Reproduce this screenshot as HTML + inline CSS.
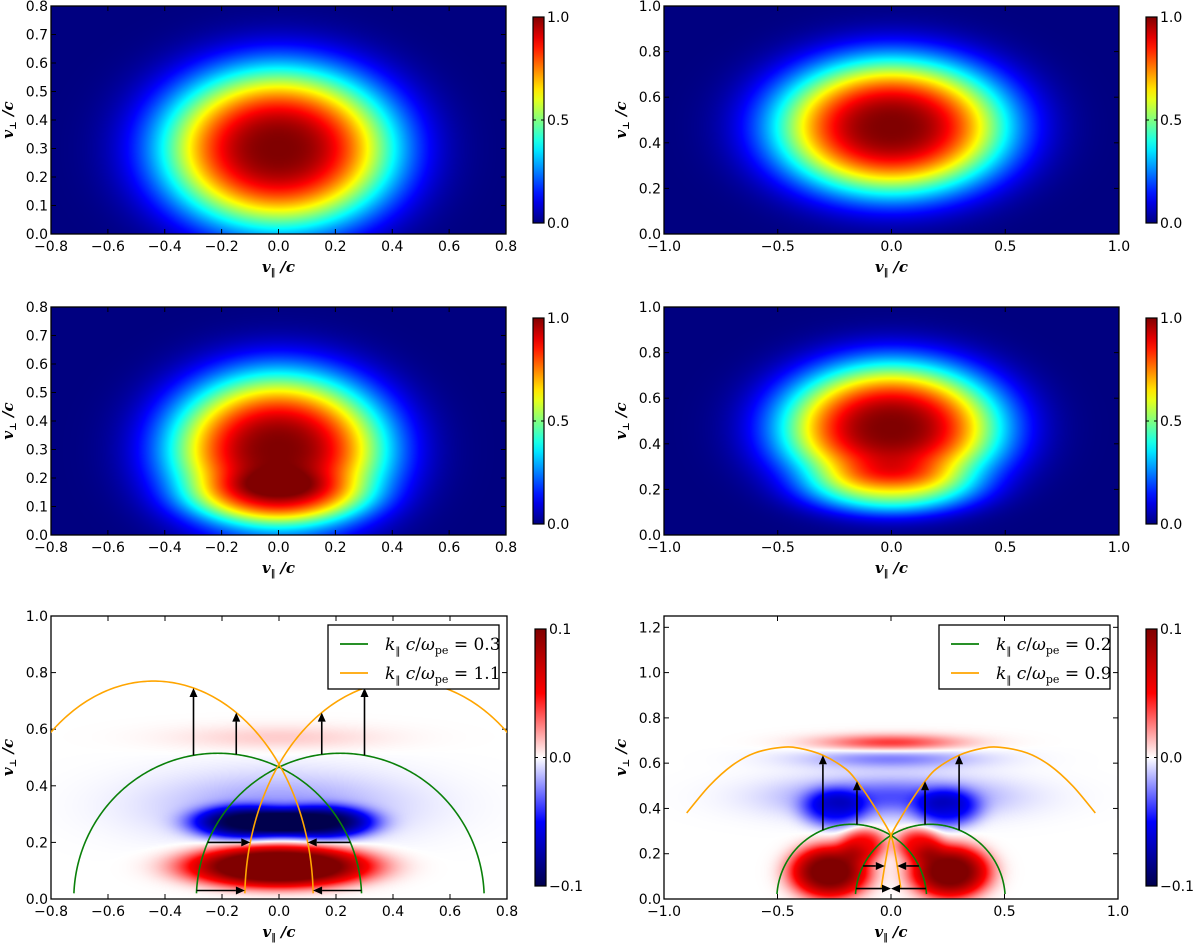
<!DOCTYPE html>
<html><head><meta charset="utf-8"><title>Velocity distribution panels</title>
<style>
html,body{margin:0;padding:0;background:#fff;}
#root{position:relative;width:1200px;height:943px;overflow:hidden;background:#fff;}
canvas{position:absolute;}
svg{position:absolute;left:0;top:0;}
</style></head>
<body>
<div id="root">
<canvas id="c-tl"></canvas>
<canvas id="c-tr"></canvas>
<canvas id="c-ml"></canvas>
<canvas id="c-mr"></canvas>
<canvas id="c-bl"></canvas>
<canvas id="c-br"></canvas>
<svg id="ov" width="1200" height="943" xmlns="http://www.w3.org/2000/svg"></svg>
</div>
<script>
// ---------- data ----------
const tlBlobX=[0], tlBlobY=[0.3], tlBlobSx=[0.29], tlBlobSy=[0.2], tlBlobAmp=[1.0], tlBlobP=[1.4];
const trBlobX=[0], trBlobY=[0.47], trBlobSx=[0.36], trBlobSy=[0.21], trBlobAmp=[1.0], trBlobP=[1.4];
const mlBlobX=[0,0], mlBlobY=[0.3,0.13], mlBlobSx=[0.27,0.22], mlBlobSy=[0.19,0.06], mlBlobAmp=[1.0,0.22], mlBlobP=[1.4,1.5];
const mrBlobX=[0,0], mrBlobY=[0.47,0.2], mrBlobSx=[0.34,0.27], mrBlobSy=[0.2,0.08], mrBlobAmp=[1.0,0.25], mrBlobP=[1.4,1.5];
const blBlobX=[0,-0.12,0.15,0,0], blBlobY=[0.115,0.27,0.27,0.33,0.57], blBlobSx=[0.22,0.13,0.13,0.3,0.25], blBlobSy=[0.05,0.04,0.04,0.08,0.03], blBlobAmp=[0.14,-0.09,-0.09,-0.02,0.01], blBlobP=[1.5,1.5,1.5,1,1];
const brBlobX=[-0.27,0.26,-0.12,0.12,0,-0.25,0.25,0,0], brBlobY=[0.12,0.12,0.24,0.24,0.45,0.4,0.4,0.69,0.62], brBlobSx=[0.12,0.12,0.07,0.07,0.32,0.1,0.1,0.22,0.27], brBlobSy=[0.08,0.08,0.05,0.05,0.06,0.06,0.06,0.025,0.03], brBlobAmp=[0.11,0.11,0.05,0.05,-0.035,-0.045,-0.045,0.04,-0.025], brBlobP=[1.5,1.5,1.5,1.5,1,1.5,1.5,1,1];
const xTicks08=[-0.8,-0.6,-0.4,-0.2,0,0.2,0.4,0.6,0.8];
const xTicks10=[-1,-0.5,0,0.5,1];
const yTicks08=[0,0.1,0.2,0.3,0.4,0.5,0.6,0.7,0.8];
const yTicks10=[0,0.2,0.4,0.6,0.8,1.0];
const yTicks125=[0,0.2,0.4,0.6,0.8,1.0,1.2];
const cbTicksJet=[0,0.5,1];
const cbTicksDiv=[-0.1,0,0.1];
const blGreenC=[-0.215,0.215], blGreenA=[0.505,0.505], blGreenB=[0.515,0.515];
const blOrangeC=[-0.44,0.44], blOrangeA=[0.56,0.56], blOrangeB=[0.77,0.77];
const blArrowUpX=[-0.3,-0.15,0.15,0.3];
const blArrowSideY=[0.2,0.03];
const brGreenC=[-0.173,0.173], brGreenA=[0.33,0.33], brGreenB=[0.33,0.33];
const brOrangeX=[-0.9,-0.8,-0.7,-0.6,-0.48,-0.4,-0.3,-0.2,-0.15,-0.1,-0.05,0,0.02,0.043];
const brOrangeY=[0.38,0.5,0.59,0.645,0.67,0.665,0.635,0.575,0.52,0.45,0.37,0.28,0.19,0.05];
const brArrowUpX=[-0.3,-0.15,0.15,0.3];
const brArrowSideY=[0.146,0.046];
const legendBL=['0.3','1.1'];
const legendBR=['0.2','0.9'];

// ---------- helpers ----------
const NS='http://www.w3.org/2000/svg';
const ov=document.getElementById('ov');
function el(tag,attrs,parent){const e=document.createElementNS(NS,tag);for(const k in attrs)e.setAttribute(k,attrs[k]);(parent||ov).appendChild(e);return e;}
function fmt(v,d){let s=v.toFixed(d);if(Math.abs(v)<1e-9)s=(0).toFixed(d);return s.replace('-','\u2212');}
function jet(v){v=Math.max(0,Math.min(1,v));const c=t=>Math.max(0,Math.min(1,t));return [c(1.5-Math.abs(4*v-3)),c(1.5-Math.abs(4*v-2)),c(1.5-Math.abs(4*v-1))];}
function seis(v){v=Math.max(-1,Math.min(1,v));
 if(v<0){const t=-v;if(t<0.5)return [1-2*t,1-2*t,1];return [0,0,1-(t-0.5)*1.4];}
 const t=v;if(t<0.5)return [1,1-2*t,1-2*t];return [1-(t-0.5),0,0];}

const panels=[
 {id:'tl',x0:51,x1:506,y0:6,y1:234,xr:[-0.8,0.8],yr:[0,0.8],xt:xTicks08,xd:1,yt:yTicks08,cbx:533,cby0:17,cby1:223,cmap:'jet',bx:tlBlobX,by:tlBlobY,bsx:tlBlobSx,bsy:tlBlobSy,ba:tlBlobAmp,bp:tlBlobP},
 {id:'tr',x0:664,x1:1119,y0:6,y1:234,xr:[-1,1],yr:[0,1],xt:xTicks10,xd:1,yt:yTicks10,cbx:1146,cby0:17,cby1:223,cmap:'jet',bx:trBlobX,by:trBlobY,bsx:trBlobSx,bsy:trBlobSy,ba:trBlobAmp,bp:trBlobP},
 {id:'ml',x0:51,x1:506,y0:307,y1:535,xr:[-0.8,0.8],yr:[0,0.8],xt:xTicks08,xd:1,yt:yTicks08,cbx:533,cby0:318,cby1:524,cmap:'jet',bx:mlBlobX,by:mlBlobY,bsx:mlBlobSx,bsy:mlBlobSy,ba:mlBlobAmp,bp:mlBlobP},
 {id:'mr',x0:664,x1:1119,y0:307,y1:535,xr:[-1,1],yr:[0,1],xt:xTicks10,xd:1,yt:yTicks10,cbx:1146,cby0:318,cby1:524,cmap:'jet',bx:mrBlobX,by:mrBlobY,bsx:mrBlobSx,bsy:mrBlobSy,ba:mrBlobAmp,bp:mrBlobP},
 {id:'bl',x0:51,x1:507,y0:616,y1:899,xr:[-0.8,0.8],yr:[0,1],xt:xTicks08,xd:1,yt:yTicks10,cbx:535,cby0:629,cby1:886,cmap:'div',bx:blBlobX,by:blBlobY,bsx:blBlobSx,bsy:blBlobSy,ba:blBlobAmp,bp:blBlobP},
 {id:'br',x0:664,x1:1118,y0:616,y1:899,xr:[-1,1],yr:[0,1.25],xt:xTicks10,xd:1,yt:yTicks125,cbx:1146,cby0:629,cby1:886,cmap:'div',bx:brBlobX,by:brBlobY,bsx:brBlobSx,bsy:brBlobSy,ba:brBlobAmp,bp:brBlobP}
];

function sx(p,x){return p.x0+(x-p.xr[0])/(p.xr[1]-p.xr[0])*(p.x1-p.x0);}
function sy(p,y){return p.y1-(y-p.yr[0])/(p.yr[1]-p.yr[0])*(p.y1-p.y0);}

function fieldVal(p,x,y){let s=0;for(let i=0;i<p.bx.length;i++){const dx=(x-p.bx[i])/p.bsx[i],dy=(y-p.by[i])/p.bsy[i];const q=0.5*(dx*dx+dy*dy);s+=p.ba[i]*Math.exp(-Math.pow(q,p.bp[i]));}return s;}

panels.forEach(p=>{
 const cv=document.getElementById('c-'+p.id);
 const W=p.x1-p.x0,H=p.y1-p.y0;cv.width=W;cv.height=H;
 cv.style.left=p.x0+'px';cv.style.top=p.y0+'px';
 const ctx=cv.getContext('2d');const img=ctx.createImageData(W,H);
 for(let j=0;j<H;j++){const y=p.yr[1]-(j+0.5)/H*(p.yr[1]-p.yr[0]);
  for(let i=0;i<W;i++){const x=p.xr[0]+(i+0.5)/W*(p.xr[1]-p.xr[0]);
   const v=fieldVal(p,x,y);
   const c=p.cmap==='jet'?jet(v):seis(v/0.1);
   const k=(j*W+i)*4;img.data[k]=c[0]*255;img.data[k+1]=c[1]*255;img.data[k+2]=c[2]*255;img.data[k+3]=255;}}
 ctx.putImageData(img,0,0);
});

const defs=el('defs',{});
function grad(id,fn,lo,hi){const g=el('linearGradient',{id:id,x1:0,y1:1,x2:0,y2:0},defs);
 for(let i=0;i<=20;i++){const t=i/20;const c=fn(lo+(hi-lo)*t);el('stop',{offset:t,'stop-color':'rgb('+c.map(v=>Math.round(v*255)).join(',')+')'},g);}}
grad('gjet',jet,0,1);grad('gdiv',seis,-1,1);

const tickFont='"DejaVu Sans","Liberation Sans",sans-serif';
const mathFont='"DejaVu Serif","Liberation Serif",serif';
panels.forEach(p=>{
 const g=el('g',{});
 
 
 const fr=el('rect',{x:p.x0,y:p.y0,width:p.x1-p.x0,height:p.y1-p.y0,fill:'none',stroke:'#000','stroke-width':1.3},g);
 
 
 p.xt.forEach(v=>{const X=sx(p,v);
  el('line',{x1:X,y1:p.y1,x2:X,y2:p.y1-5,stroke:'#000','stroke-width':1},g);
  el('line',{x1:X,y1:p.y0,x2:X,y2:p.y0+5,stroke:'#000','stroke-width':1},g);
  const t=el('text',{x:X,y:p.y1+17,'text-anchor':'middle','font-size':14,'font-family':tickFont},g);t.textContent=fmt(v,p.xd);
  
  });
 p.yt.forEach(v=>{const Y=sy(p,v);
  el('line',{x1:p.x0,y1:Y,x2:p.x0+5,y2:Y,stroke:'#000','stroke-width':1},g);
  el('line',{x1:p.x1,y1:Y,x2:p.x1-5,y2:Y,stroke:'#000','stroke-width':1},g);
  const t=el('text',{x:p.x0-3,y:Y+5,'text-anchor':'end','font-size':14,'font-family':tickFont},g);t.textContent=fmt(v,1);
  
  });
 const xl=el('text',{x:(p.x0+p.x1)/2,y:p.y1+38,'text-anchor':'middle','font-size':15,'font-family':mathFont,'font-style':'italic','font-weight':'bold'},g);
 xl.innerHTML='v<tspan font-size="9" dy="3" font-style="normal">\u2016</tspan><tspan dy="-3"> /c</tspan>';
 
 
 const yc=(p.y0+p.y1)/2;
 const yl=el('text',{x:0,y:0,'text-anchor':'middle','font-size':15,'font-family':mathFont,'font-style':'italic','font-weight':'bold',transform:'translate('+(p.x0-38)+','+yc+') rotate(-90)'},g);
 yl.innerHTML='v<tspan font-size="9" dy="3" font-style="normal">\u22A5</tspan><tspan dy="-3"> /c</tspan>';
 
 
 const cw=11;
 const cb=el('rect',{x:p.cbx,y:p.cby0,width:cw,height:p.cby1-p.cby0,fill:p.cmap==='jet'?'url(#gjet)':'url(#gdiv)',stroke:'#000','stroke-width':1.2},g);
 
 
 const ticks=p.cmap==='jet'?cbTicksJet:cbTicksDiv;const lo=ticks[0],hi=ticks[ticks.length-1];
 ticks.forEach(v=>{const Y=p.cby1-(v-lo)/(hi-lo)*(p.cby1-p.cby0);
  el('line',{x1:p.cbx,y1:Y,x2:p.cbx+3,y2:Y,stroke:'#000','stroke-width':1},g);
  el('line',{x1:p.cbx+cw,y1:Y,x2:p.cbx+cw-3,y2:Y,stroke:'#000','stroke-width':1},g);
  const t=el('text',{x:p.cbx+cw+3,y:Y+5,'font-size':14,'font-family':tickFont},g);t.textContent=fmt(v,1);
  
  });
});

function clip(p,id){const c=el('clipPath',{id:id},defs);el('rect',{x:p.x0,y:p.y0,width:p.x1-p.x0,height:p.y1-p.y0},c);}
function ellY(c,a,b,x){const d=(x-c)/a;return d*d>=1?null:b*Math.sqrt(1-d*d);}
function ellX(c,a,b,y,side){const d=y/b;const dx=a*Math.sqrt(Math.max(0,1-d*d));return c+side*dx;}
function ellipsePath(p,c,a,b){let d='';const n=240;for(let i=0;i<=n;i++){const th=Math.PI*i/n;const x=c+a*Math.cos(th),y=b*Math.sin(th);if(y<0.02)continue;d+=(d?'L':'M')+sx(p,x).toFixed(2)+','+sy(p,y).toFixed(2);}return d;}
function arrow(p,g,x1,y1,x2,y2){const X1=sx(p,x1),Y1=sy(p,y1),X2=sx(p,x2),Y2=sy(p,y2);
 const L=Math.hypot(X2-X1,Y2-Y1),ux=(X2-X1)/L,uy=(Y2-Y1)/L,h=9,w=4;
 const bx=X2-ux*h,by=Y2-uy*h;
 const ln=el('line',{x1:X1,y1:Y1,x2:bx,y2:by,stroke:'#000','stroke-width':1.6},g);
 
 
 const hd=el('polygon',{points:X2+','+Y2+' '+(bx-uy*w)+','+(by+ux*w)+' '+(bx+uy*w)+','+(by-ux*w),fill:'#000'},g);
 
 }
function interp(xs,ys,x){for(let i=0;i<xs.length-1;i++){if((x-xs[i])*(x-xs[i+1])<=0){const t=(x-xs[i])/(xs[i+1]-xs[i]);return ys[i]+t*(ys[i+1]-ys[i]);}}return null;}
function interpX(xs,ys,y){for(let i=xs.length-2;i>=0;i--){if((y-ys[i])*(y-ys[i+1])<=0){const t=(y-ys[i])/(ys[i+1]-ys[i]);return xs[i]+t*(xs[i+1]-xs[i]);}}return null;}
function smoothPath(pts){let d='M'+pts[0][0].toFixed(2)+','+pts[0][1].toFixed(2);
 for(let i=0;i<pts.length-1;i++){const p0=pts[Math.max(0,i-1)],p1=pts[i],p2=pts[i+1],p3=pts[Math.min(pts.length-1,i+2)];
  const c1=[p1[0]+(p2[0]-p0[0])/6,p1[1]+(p2[1]-p0[1])/6],c2=[p2[0]-(p3[0]-p1[0])/6,p2[1]-(p3[1]-p1[1])/6];
  d+='C'+c1[0].toFixed(2)+','+c1[1].toFixed(2)+' '+c2[0].toFixed(2)+','+c2[1].toFixed(2)+' '+p2[0].toFixed(2)+','+p2[1].toFixed(2);}
 return d;}

(function(){const p=panels[4];clip(p,'clipbl');
 const g=el('g',{'clip-path':'url(#clipbl)'});
 
 
 blGreenC.forEach((c,i)=>{const pa=el('path',{d:ellipsePath(p,c,blGreenA[i],blGreenB[i]),fill:'none',stroke:'#0a800a','stroke-width':1.6},g);
  
  });
 blOrangeC.forEach((c,i)=>{const pa=el('path',{d:ellipsePath(p,c,blOrangeA[i],blOrangeB[i]),fill:'none',stroke:'#ffa500','stroke-width':1.6},g);
  
  });
 blArrowUpX.forEach(x=>{const i=x<0?0:1;arrow(p,g,x,ellY(blGreenC[i],blGreenA[i],blGreenB[i],x),x,ellY(blOrangeC[i],blOrangeA[i],blOrangeB[i],x));});
 blArrowSideY.forEach(y=>{
  arrow(p,g,ellX(blGreenC[1],blGreenA[1],blGreenB[1],y,-1),y,ellX(blOrangeC[1],blOrangeA[1],blOrangeB[1],y,-1),y);
  arrow(p,g,ellX(blGreenC[0],blGreenA[0],blGreenB[0],y,1),y,ellX(blOrangeC[0],blOrangeA[0],blOrangeB[0],y,1),y);});
})();
(function(){const p=panels[5];clip(p,'clipbr');
 const g=el('g',{'clip-path':'url(#clipbr)'});
 
 
 brGreenC.forEach((c,i)=>{const pa=el('path',{d:ellipsePath(p,c,brGreenA[i],brGreenB[i]),fill:'none',stroke:'#0a800a','stroke-width':1.6},g);
  
  });
 [1,-1].forEach(s=>{const pts=brOrangeX.map((x,i)=>[sx(p,s*x),sy(p,brOrangeY[i])]);
  const pa=el('path',{d:smoothPath(pts),fill:'none',stroke:'#ffa500','stroke-width':1.6},g);
  
  });
 brArrowUpX.forEach(x=>{const i=x<0?0:1;const s=x<0?1:-1;arrow(p,g,x,ellY(brGreenC[i],brGreenA[i],brGreenB[i],x),x,interp(brOrangeX,brOrangeY,s*x));});
 brArrowSideY.forEach(y=>{const ox=interpX(brOrangeX,brOrangeY,y);
  arrow(p,g,ellX(brGreenC[1],brGreenA[1],brGreenB[1],y,-1),y,-ox,y);
  arrow(p,g,ellX(brGreenC[0],brGreenA[0],brGreenB[0],y,1),y,ox,y);});
})();

function legend(x,y,vals,name){const g=el('g',{});
 
 
 el('rect',{x:x,y:y,width:171,height:64,fill:'#fff',stroke:'#000','stroke-width':1.3},g);
 const cols=['#0a800a','#ffa500'];
 vals.forEach((v,i)=>{const yy=y+19+i*29;
  const ln=el('line',{x1:x+12,y1:yy,x2:x+40,y2:yy,stroke:cols[i],'stroke-width':1.8},g);
  
  
  const t=el('text',{x:x+57,y:yy+6,'font-size':17,'font-family':mathFont},g);
  t.innerHTML='<tspan font-style="italic">k</tspan><tspan font-size="10" dy="4">\u2016</tspan><tspan dy="-4" font-style="italic"> c</tspan>/<tspan font-style="italic">\u03C9</tspan><tspan font-size="11" dy="4">pe</tspan><tspan dy="-4"> = '+v+'</tspan>';
  
  });}
legend(328,625,legendBL,'legend-bottom-left');
legend(939,625,legendBR,'legend-bottom-right');
</script>
</body></html>
